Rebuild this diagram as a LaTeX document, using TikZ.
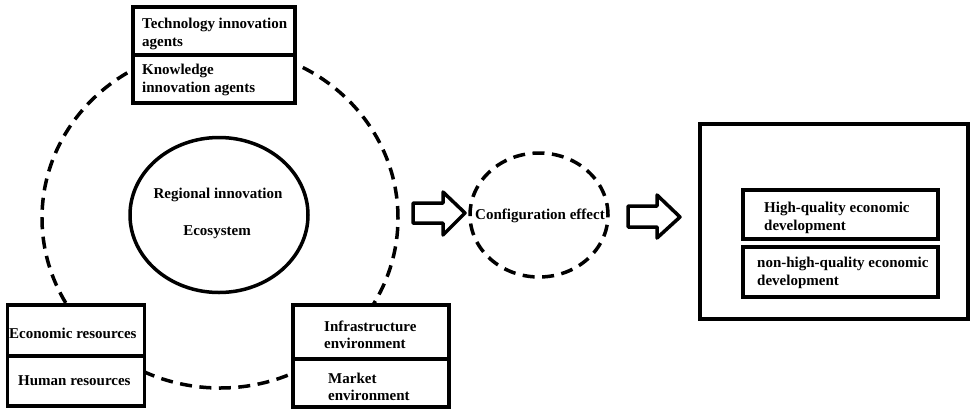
\documentclass[tikz,border=0pt]{standalone}
\usepackage{fontspec}
\setmainfont{Liberation Serif}
\usetikzlibrary{shapes.geometric}
\begin{document}
\begin{tikzpicture}[x=1pt,y=-1pt,
  boxst/.style={draw,line width=3.5pt,fill=white,rectangle,inner sep=0pt},
  txt/.style={font=\bfseries\fontsize{15}{17.5}\selectfont,align=left,inner sep=0pt},
  ctxt/.style={font=\bfseries\fontsize{15}{17.5}\selectfont,align=center,inner sep=0pt},
  dashst/.style={draw,line width=3.5pt,dash pattern=on 12pt off 7.5pt},
  blockarrow/.style={draw,line width=3.5pt,line join=round,fill=white}]
\useasboundingbox (0,0) rectangle (979,416);
% big dashed circle
\node[dashst,ellipse,minimum width=356pt,minimum height=340pt,inner sep=0pt] (eco) at (220,218) {};
% inner solid ellipse
\node[ellipse,draw,line width=3.5pt,minimum width=178pt,minimum height=155pt,inner sep=0pt] (core) at (219,215) {};
\node[ctxt] (coret1) at (218,195) {Regional innovation};
\node[ctxt] (coret2) at (217,232) {Ecosystem};
% top boxes
\node[boxst,minimum width=162pt,minimum height=48pt] (tech) at (214,31) {};
\node[boxst,minimum width=162pt,minimum height=48pt] (know) at (214,79) {};
\node[txt,anchor=west] (techt) at (142,34) {Technology innovation\\agents};
\node[txt,anchor=west] (knowt) at (142,80) {Knowledge\\innovation agents};
% bottom left boxes
\node[boxst,minimum width=137pt,minimum height=51pt] (econ) at (76,330.5) {};
\node[boxst,minimum width=137pt,minimum height=50pt] (human) at (76,381) {};
\node[txt,anchor=west] (econt) at (9,333) {Economic resources};
\node[txt,anchor=west] (humant) at (18,381) {Human resources};
% bottom right boxes
\node[boxst,minimum width=156pt,minimum height=54pt] (infra) at (371,332) {};
\node[boxst,minimum width=156pt,minimum height=48pt] (market) at (371,383) {};
\node[txt,anchor=west] (infrat) at (324,335) {Infrastructure\\environment};
\node[txt,anchor=west] (markett) at (328,387) {Market\\environment};
% arrow 1
\draw[blockarrow] (413,203) -- (443,203) -- (443,192) -- (465,213) -- (443,235) -- (443,223) -- (413,223) -- cycle;
% configuration circle
\node[dashst,ellipse,minimum width=138pt,minimum height=124pt,inner sep=0pt] (conf) at (539,215) {};
\node[ctxt] (conft) at (540,216) {Configuration effect};
% arrow 2
\draw[blockarrow] (628,206) -- (657,206) -- (657,195) -- (680,217) -- (657,238) -- (657,227) -- (628,227) -- cycle;
% outcome box
\node[boxst,minimum width=268pt,minimum height=195pt] (outcome) at (834,221.5) {};
\node[boxst,minimum width=195pt,minimum height=49pt] (hq) at (840.5,214.5) {};
\node[boxst,minimum width=195pt,minimum height=50pt] (nhq) at (840.5,272) {};
\node[txt,anchor=west] (hqt) at (764,218) {High-quality economic\\development};
\node[txt,anchor=west] (nhqt) at (757,273) {non-high-quality economic\\development};
\end{tikzpicture}
\end{document}
